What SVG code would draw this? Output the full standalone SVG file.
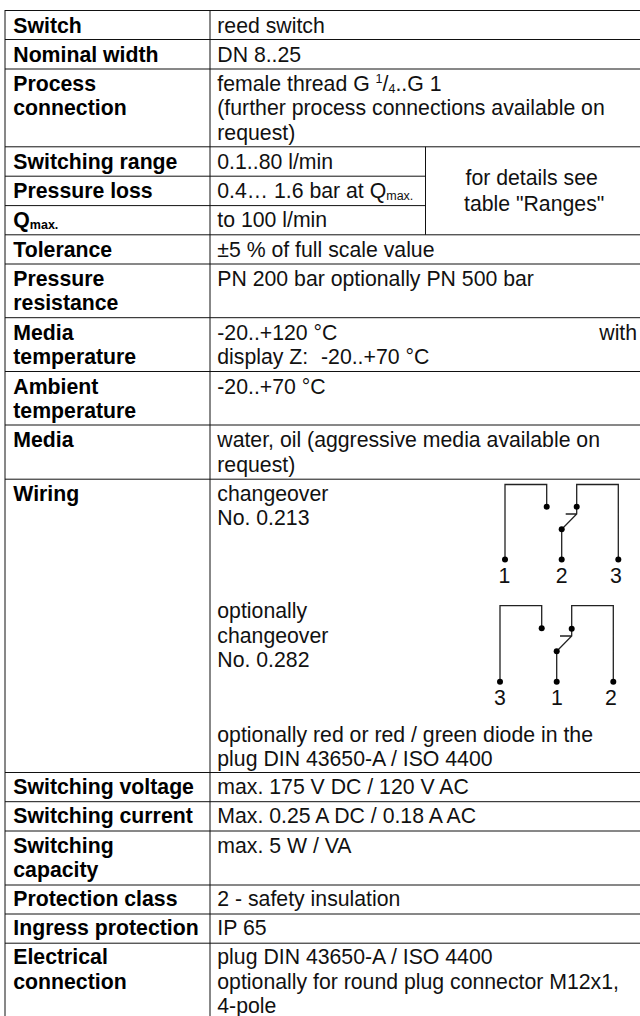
<svg xmlns="http://www.w3.org/2000/svg" width="640" height="1016" viewBox="0 0 640 1016">
<style>
text{font-family:"Liberation Sans",Arial,sans-serif;font-size:21.25px;fill:#111}
.b{font-weight:bold;fill:#000}
.s{font-size:12.5px}
.g{stroke:#111;stroke-width:1;fill:none}
.w{stroke:#222;stroke-width:1.3;fill:none}
.d{fill:#000}
</style>
<rect width="640" height="1016" fill="#fff"/>
<g id="grid" class="g">
<path d="M5 10.5H640M5 39.5H640M5 69H640M5 146.8H640M5 176.2H425.5M5 205.6H425.5M5 234.8H640M5 264H640M5 317.7H640M5 371.5H640M5 425H640M5 479.2H640M5 772.5H640M5 801.7H640M5 831H640M5 885H640M5 914H640M5 943.2H640"/>
<path d="M5 10V1016M210 10V1016M425.5 146.8V234.8"/>
</g>
<g id="labels">
<text class="b" x="13.3" y="32.7">Switch</text>
<text class="b" x="13.3" y="61.7">Nominal width</text>
<text class="b" x="13.3" y="91">Process</text>
<text class="b" x="13.3" y="115.3">connection</text>
<text class="b" x="13.3" y="168.5">Switching range</text>
<text class="b" x="13.3" y="198">Pressure loss</text>
<text class="b" x="13.3" y="227">Q<tspan class="s" dy="1.5">max.</tspan></text>
<text class="b" x="13.3" y="256.7">Tolerance</text>
<text class="b" x="13.3" y="285.7">Pressure</text>
<text class="b" x="13.3" y="310">resistance</text>
<text class="b" x="13.3" y="339.5">Media</text>
<text class="b" x="13.3" y="363.5">temperature</text>
<text class="b" x="13.3" y="393.5">Ambient</text>
<text class="b" x="13.3" y="417.7">temperature</text>
<text class="b" x="13.3" y="447">Media</text>
<text class="b" x="13.3" y="501">Wiring</text>
<text class="b" x="13.3" y="794.3">Switching voltage</text>
<text class="b" x="13.3" y="823.3">Switching current</text>
<text class="b" x="13.3" y="853">Switching</text>
<text class="b" x="13.3" y="877">capacity</text>
<text class="b" x="13.3" y="906">Protection class</text>
<text class="b" x="13.3" y="935">Ingress protection</text>
<text class="b" x="13.3" y="964.3">Electrical</text>
<text class="b" x="13.3" y="988.7">connection</text>
</g>
<g id="values">
<text x="217.3" y="32.7">reed switch</text>
<text x="217.3" y="61.7">DN 8..25</text>
<text x="217.3" y="91">female thread G <tspan class="s" dy="-8">1</tspan><tspan dy="8">/</tspan><tspan class="s" dy="1.5">4</tspan><tspan dy="-1.5">..G 1</tspan></text>
<text x="217.3" y="115.3">(further process connections available on</text>
<text x="217.3" y="139.7">request)</text>
<text x="217.3" y="168.5">0.1..80 l/min</text>
<text x="217.3" y="198">0.4… 1.6 bar at Q<tspan class="s" dy="1.5">max.</tspan></text>
<text x="217.3" y="227">to 100 l/min</text>
<text x="465.5" y="185">for details see</text>
<text x="464" y="210.5">table "Ranges"</text>
<text x="217.3" y="256.7">±5 % of full scale value</text>
<text x="217.3" y="285.7">PN 200 bar optionally PN 500 bar</text>
<text x="217.3" y="339.5">-20..+120 °C</text>
<text x="599.3" y="339.5">with</text>
<text x="217.3" y="363.5">display Z:</text>
<text x="321" y="363.5">-20..+70 °C</text>
<text x="217.3" y="393.5">-20..+70 °C</text>
<text x="217.3" y="447">water, oil (aggressive media available on</text>
<text x="217.3" y="472">request)</text>
<text x="217.3" y="500.7">changeover</text>
<text x="217.3" y="525">No. 0.213</text>
<text x="217.3" y="618">optionally</text>
<text x="217.3" y="642.7">changeover</text>
<text x="217.3" y="667.3">No. 0.282</text>
<text x="217.3" y="741.7">optionally red or red / green diode in the</text>
<text x="217.3" y="766">plug DIN 43650-A / ISO 4400</text>
<text x="217.3" y="794.3">max. 175 V DC / 120 V AC</text>
<text x="217.3" y="823.3">Max. 0.25 A DC / 0.18 A AC</text>
<text x="217.3" y="853">max. 5 W / VA</text>
<text x="217.3" y="906">2 - safety insulation</text>
<text x="217.3" y="935">IP 65</text>
<text x="217.3" y="964.3">plug DIN 43650-A / ISO 4400</text>
<text x="217.3" y="988.7">optionally for round plug connector M12x1,</text>
<text x="217.3" y="1013">4-pole</text>
</g>
<g id="wiring1">
<path class="w" d="M505 559.5V484.5H546.7V506.7M576.7 506.7V484.5H618.3V559.5M561.7 559.5V529.3L576.7 514V506.7M565.7 514H576.7"/>
<circle class="d" cx="505" cy="559.5" r="3"/><circle class="d" cx="561.7" cy="559.5" r="3"/><circle class="d" cx="618.3" cy="559.5" r="3"/>
<circle class="d" cx="546.7" cy="506.7" r="3"/><circle class="d" cx="576.7" cy="506.7" r="3"/><circle class="d" cx="561.7" cy="529.3" r="3"/>
<text x="498.4" y="583.3">1</text><text x="555.7" y="583.3">2</text><text x="610" y="583.3">3</text>
</g>
<g id="wiring2">
<path class="w" d="M500 681.7V605.7H541.7V628.3M571.7 628.7V605.7H613.3V681.7M556.7 681.7V651.3L571.7 636V628.7M560 636H571.7"/>
<circle class="d" cx="500" cy="681.7" r="3"/><circle class="d" cx="556.7" cy="681.7" r="3"/><circle class="d" cx="613.3" cy="681.7" r="3"/>
<circle class="d" cx="541.7" cy="628.3" r="3"/><circle class="d" cx="571.7" cy="628.7" r="3"/><circle class="d" cx="556.7" cy="651.3" r="3"/>
<text x="494" y="705">3</text><text x="551" y="705">1</text><text x="605" y="705">2</text>
</g>
</svg>
